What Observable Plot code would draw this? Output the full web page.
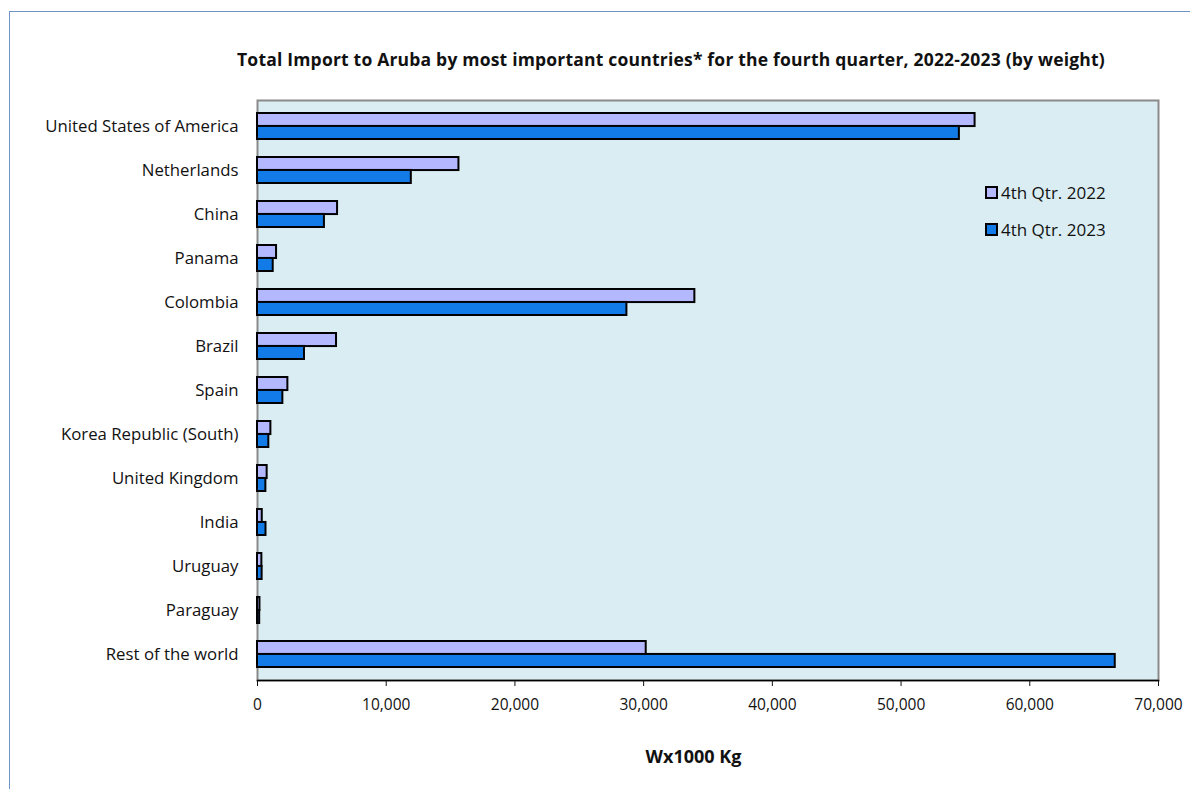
<!DOCTYPE html>
<html>
<head>
<meta charset="utf-8">
<script src="https://cdn.jsdelivr.net/npm/d3@7"></script>
<script src="https://cdn.jsdelivr.net/npm/@observablehq/plot@0.6"></script>
<style>
  html, body { margin: 0; padding: 0; background: #fff; width: 1190px; height: 789px; overflow: hidden; }
  body { font-family: "Open Sans", Lato, sans-serif; position: relative; }
  #border { position: absolute; left: 9px; top: 11px; width: 1200px; height: 800px; border: 1px solid #6f93c4; box-sizing: border-box; }
  #title { position: absolute; left: 0; width: 1342px; top: 47px; text-align: center; font-weight: bold; font-size: 17.5px; color: #111; letter-spacing: 0.2px; }
  #chart { position: absolute; left: 0; top: 80px; }
  #xlabel { position: absolute; left: 243px; width: 901px; top: 744px; text-align: center; font-weight: bold; font-size: 18px; color: #111; }
  #legend { position: absolute; left: 985px; top: 180px; font-size: 17px; color: #111; }
  .li { display: flex; align-items: center; height: 24px; margin-bottom: 13px; }
  .sw { width: 9px; height: 9px; border: 2px solid #000; margin-right: 3px; }
</style>
</head>
<body>
<div id="border"></div>
<div id="title">Total Import to Aruba by most important countries* for the fourth quarter, 2022-2023 (by weight)</div>
<div id="chart"></div>
<div id="xlabel">Wx1000 Kg</div>
<div id="legend"></div>
<script>
const countries = ["United States of America", "Netherlands", "China", "Panama", "Colombia", "Brazil", "Spain", "Korea Republic (South)", "United Kingdom", "India", "Uruguay", "Paraguay", "Rest of the world"];
const seriesNames = ["4th Qtr. 2022", "4th Qtr. 2023"];
const values2022 = [55750, 15650, 6220, 1480, 33980, 6140, 2360, 1040, 750, 370, 340, 190, 30200];
const values2023 = [54530, 11950, 5200, 1220, 28700, 3650, 1970, 880, 650, 660, 360, 170, 66640];
const xTicks = [0, 10000, 20000, 30000, 40000, 50000, 60000, 70000];
const colors = ["#b3b8ff", "#127be8"];

const data2022 = countries.map((c, i) => ({country: c, value: values2022[i]}));
const data2023 = countries.map((c, i) => ({country: c, value: values2023[i]}));

const height = 700, marginTop = 20, marginBottom = 100;
const pi = 0.42;
const step = (height - marginTop - marginBottom) / countries.length;
const bw = step * (1 - pi);

const plot = Plot.plot({
  width: 1190,
  height,
  marginLeft: 257,
  marginRight: 32,
  marginTop,
  marginBottom,
  style: {fontFamily: "'Open Sans', Lato, sans-serif", fontSize: "15px", color: "#111", background: "transparent"},
  x: {domain: [0, 70000], ticks: xTicks, tickFormat: d3.format(","), label: null},
  y: {domain: countries, paddingInner: pi, paddingOuter: pi / 2, label: null},
  marks: [
    Plot.frame({fill: "#daedf3", stroke: "#8a8a8a", strokeWidth: 2}),
    Plot.barX(data2022, {y: "country", x: "value", fill: colors[0], stroke: "#000", strokeWidth: 2, insetBottom: bw / 2}),
    Plot.barX(data2023, {y: "country", x: "value", fill: colors[1], stroke: "#000", strokeWidth: 2, insetTop: bw / 2}),
    Plot.frame({anchor: "bottom", stroke: "#000", strokeWidth: 1.5}),
    Plot.axisX({ticks: xTicks, tickFormat: d3.format(","), tickSize: 6, tickPadding: 12, label: null, fontSize: 15.5}),
    Plot.axisY({tickSize: 0, tickPadding: 19, label: null, fontSize: 16.8})
  ]
});
document.getElementById("chart").appendChild(plot);

const legend = document.getElementById("legend");
seriesNames.forEach((s, i) => {
  const row = document.createElement("div");
  row.className = "li";
  const sw = document.createElement("div");
  sw.className = "sw";
  sw.style.background = colors[i];
  const t = document.createElement("span");
  t.textContent = s;
  row.appendChild(sw);
  row.appendChild(t);
  legend.appendChild(row);
});
</script>
</body>
</html>
